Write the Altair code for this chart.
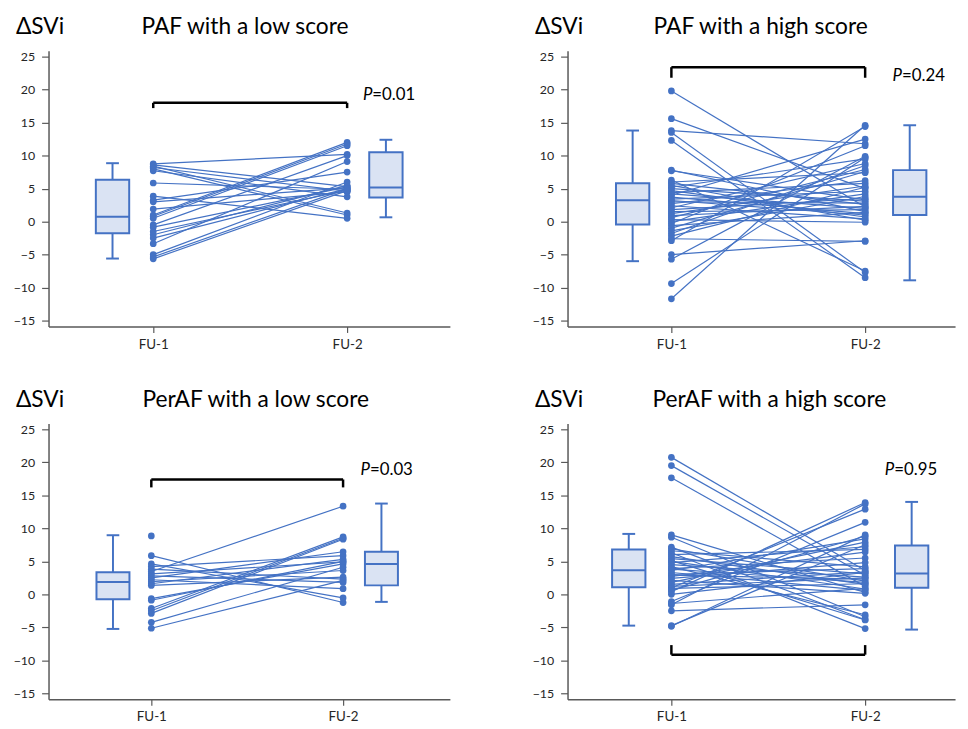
import altair as alt
import pandas as pd

BLUE = "#4472C4"
LIGHT = "#DAE3F3"
AXC = "#595959"
FONT = "Lato"

titles = ["PAF with a low score", "PAF with a high score",
          "PerAF with a low score", "PerAF with a high score"]
p_labels = ["=0.01", "=0.24", "=0.03", "=0.95"]
tick_labels = ["FU-1", "FU-2"]
y_ticks = [-15, -10, -5, 0, 5, 10, 15, 20, 25]

# paired values (FU-1, FU-2) per subject
fu1_paf_low = [8.75, 8.6, 8.4, 8.2, 8.0, 7.7, 5.85, 3.85, 3.25, 3.0, 1.9, 1.0,
               0.8, 0.5, -0.5, -0.85, -1.5, -2.0, -2.5, -3.35, -5.0, -5.35, -5.65]
fu2_paf_low = [10.2, 5.3, 1.3, 4.6, 1.0, 3.75, 4.9, 0.5, 7.5, 5.1, 4.5, 12.0,
               11.75, 11.5, 10.0, 5.25, 4.75, 5.5, 5.0, 9.1, 6.0, 5.0, 4.7]

fu1_paf_high = [19.8, 15.6, 13.8, 13.5, 12.3, 7.8, 7.7,
                6.3, 6.0, 5.8, 5.5, 5.2, 5.0, 4.7, 4.4, 4.2, 4.0, 3.7, 3.4, 3.2, 3.0,
                2.7, 2.4, 2.1, 1.8, 1.5, 1.2, 0.9, 0.6, 0.3, 0.0, -0.3, -0.6, -1.0,
                -1.4, -1.8, -2.2, -2.6, -2.9, -5.0, -5.7, -9.4, -11.7]
fu2_paf_high = [2.2, 5.0, 11.8, -7.7, -8.5, 1.5, 3.3,
                -7.5, 7.4, 2.6, 0.2, 9.5, 3.1, 0.7, 5.8, 2.0, 12.5, 1.2, 4.6, 1.0, 2.8,
                6.2, 0.4, 8.8, 3.5, 1.8, 5.4, 2.3, 7.9, -0.1, 4.2, 11.5, 1.4, 7.6,
                3.8, 8.5, 5.2, -3.0, 14.4, -2.9, 9.9, 9.7, 14.6]

fu1_peraf_low = [8.85, 5.85, 4.6, 4.2, 3.8, 3.45, 3.1, 2.8, 2.5, 2.2, 1.9, 1.6,
                 1.35, -0.65, -0.9, -2.15, -2.5, -2.9, -4.25, -5.15]
fu2_peraf_low = [None, -1.25, -0.55, 5.85, 2.3, 13.35, 4.9, 1.8, 6.45, 0.85, 3.6, 5.3,
                 2.6, 4.6, 5.0, 8.7, 8.5, 8.35, 4.1, 2.1]

fu1_peraf_high = [20.75, 19.5, 17.65, 9.0, 8.65, 7.15, 6.9, 6.6, 6.3, 6.0, 5.7, 5.4,
                  5.1, 5.0, 4.8, 4.5, 4.2, 3.9, 3.8, 3.6, 3.3, 3.0, 2.9, 2.7, 2.4,
                  2.1, 1.8, 1.5, 1.2, 1.0, 0.9, 0.6, 0.4, 0.0, -1.1, -1.4, -1.6,
                  -2.5, -4.75, -4.85]
fu2_peraf_high = [3.6, 2.9, 1.2, 0.3, -3.4, -3.85, 2.0, 4.15, -5.2, 6.8, 1.5, 3.1,
                  -3.9, 0.8, 7.2, 2.6, -3.1, 5.5, 1.8, 8.4, 0.6, 3.9, 2.3, 6.4, 4.8,
                  0.15, 7.9, 3.4, 2.5, 12.9, 1.6, 8.8, 13.9, 3.3, 10.9, 0.9, 13.7,
                  -1.6, 7.5, 9.0]

# box plot stats [min, q1, median, q3, max]
box_fu1 = [[-5.6, -1.75, 0.75, 6.35, 8.85],
           [-6.0, -0.45, 3.25, 5.8, 13.8],
           [-5.25, -0.75, 1.85, 3.35, 8.95],
           [-4.75, 1.05, 3.65, 6.8, 9.15]]
box_fu2 = [[0.65, 3.65, 5.15, 10.5, 12.4],
           [-8.9, 1.0, 3.75, 7.8, 14.6],
           [-1.15, 1.35, 4.6, 6.45, 13.75],
           [-5.35, 1.0, 3.15, 7.4, 14.0]]

# annotations
p_x = [2.13, 2.19, 2.14, 2.15]
p_y = [19.2, 22.0, 18.9, 18.9]
bracket_y = [18.0, 23.4, 17.4, -9.15]
bracket_tip = [17.2, 21.8, 16.2, -7.7]

fu1_all = [fu1_paf_low, fu1_paf_high, fu1_peraf_low, fu1_peraf_high]
fu2_all = [fu2_paf_low, fu2_paf_high, fu2_peraf_low, fu2_peraf_high]

x_domains = [[0.46, 2.53], [0.464, 2.464], [0.464, 2.557], [0.464, 2.464]]
widths = [406, 392, 406, 392]
box_left = [0.79, 0.80, 0.80, 0.78]
box_right = [2.20, 2.23, 2.20, 2.24]
title_dx = [94, 87, 95, 86]
HALF = 0.086
CAP = 0.033
HEIGHT = 279


def panel(k):
    xs = alt.Scale(domain=x_domains[k], nice=False, zero=False)
    ys = alt.Scale(domain=[-15.9, 25.9], nice=False, zero=False)
    xax = alt.Axis(values=[1, 2],
                   labelExpr=f"datum.value == 1 ? '{tick_labels[0]}' : '{tick_labels[1]}'",
                   title=None, grid=False, tickSize=6, labelPadding=5,
                   labelFontSize=13.5)
    yax = alt.Axis(values=y_ticks, title=None, grid=False, tickSize=7,
                   labelPadding=7, labelFontSize=12.5)

    def X(f):
        return alt.X(f, type="quantitative", scale=xs, axis=xax)

    def Y(f):
        return alt.Y(f, type="quantitative", scale=ys, axis=yax)

    rows = []
    for i, (a, b) in enumerate(zip(fu1_all[k], fu2_all[k])):
        rows.append({"id": i, "t": 1, "v": a})
        rows.append({"id": i, "t": 2, "v": b})
    df = pd.DataFrame(rows)

    lines = alt.Chart(df).mark_line(color=BLUE, strokeWidth=1.2).encode(
        x=X("t"), y=Y("v"), detail="id:N")
    points = alt.Chart(df).mark_circle(color=BLUE, size=46, opacity=1).encode(
        x=X("t"), y=Y("v"))

    bx = []
    for pos, s in ((box_left[k], box_fu1[k]), (box_right[k], box_fu2[k])):
        bx.append({"pos": pos, "bl": pos - HALF, "br": pos + HALF,
                   "cl": pos - CAP, "cr": pos + CAP,
                   "lo": s[0], "q1": s[1], "med": s[2], "q3": s[3], "hi": s[4]})
    bdf = pd.DataFrame(bx)

    whisk = alt.Chart(bdf).mark_rule(color=BLUE, strokeWidth=2).encode(
        x=X("pos"), y=Y("lo"), y2=alt.Y2("hi"))
    cap_lo = alt.Chart(bdf).mark_rule(color=BLUE, strokeWidth=2).encode(
        x=X("cl"), x2=alt.X2("cr"), y=Y("lo"))
    cap_hi = alt.Chart(bdf).mark_rule(color=BLUE, strokeWidth=2).encode(
        x=X("cl"), x2=alt.X2("cr"), y=Y("hi"))
    box = alt.Chart(bdf).mark_rect(fill=LIGHT, stroke=BLUE, strokeWidth=2).encode(
        x=X("bl"), x2=alt.X2("br"), y=Y("q1"), y2=alt.Y2("q3"))
    med = alt.Chart(bdf).mark_rule(color=BLUE, strokeWidth=2).encode(
        x=X("bl"), x2=alt.X2("br"), y=Y("med"))

    brdf = pd.DataFrame({"x": [1, 2], "xa": [1, 1], "xb": [2, 2],
                         "by": [bracket_y[k]] * 2, "bt": [bracket_tip[k]] * 2})
    br_h = alt.Chart(brdf.head(1)).mark_rule(color="black", strokeWidth=2.5).encode(
        x=X("xa"), x2=alt.X2("xb"), y=Y("by"))
    br_v = alt.Chart(brdf).mark_rule(color="black", strokeWidth=2.5).encode(
        x=X("x"), y=Y("by"), y2=alt.Y2("bt"))

    pdf = pd.DataFrame({"x": [p_x[k]], "y": [p_y[k]], "lab": [p_labels[k]]})
    p_it = alt.Chart(pdf).mark_text(text="P", font=FONT, fontSize=17, fontStyle="italic",
                                    align="right", baseline="middle", color="black").encode(
        x=X("x"), y=Y("y"))
    p_rest = alt.Chart(pdf).mark_text(font=FONT, fontSize=17, align="left",
                                      baseline="middle", color="black").encode(
        x=X("x"), y=Y("y"), text="lab:N")

    one = pd.DataFrame({"a": [0]})
    ylab = alt.Chart(one).mark_text(
        text="ΔSVi", font=FONT, fontSize=23, align="left", baseline="alphabetic",
        color="black").encode(x=alt.value(-33), y=alt.value(-17))
    ttl = alt.Chart(one).mark_text(
        text=titles[k], font=FONT, fontSize=23, align="left", baseline="alphabetic",
        color="black").encode(x=alt.value(title_dx[k]), y=alt.value(-17))

    return alt.layer(whisk, cap_lo, cap_hi, box, med, lines, points,
                     br_h, br_v, p_it, p_rest, ylab, ttl).properties(
        width=widths[k], height=HEIGHT)


row1 = alt.hconcat(panel(0), panel(1), spacing=83)
row2 = alt.hconcat(panel(2), panel(3), spacing=83)
chart = alt.vconcat(row1, row2, spacing=38).configure_view(stroke=None).configure_axis(
    domainColor=AXC, domainWidth=1.5, tickColor=AXC, tickWidth=1.2,
    labelColor="#262626", labelFont=FONT
).properties(padding={"left": 5, "top": 4, "right": 5, "bottom": 5})

chart.save("out.html", embed_options={"renderer": "svg", "actions": False})
